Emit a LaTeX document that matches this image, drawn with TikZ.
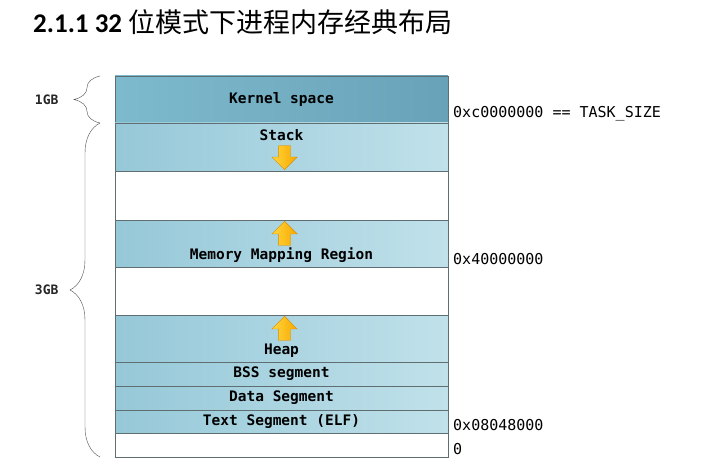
\documentclass[tikz,border=0pt]{standalone}
\usepackage{fontspec}
\setmainfont{Carlito}
\newfontfamily\cjk{Noto Sans CJK SC}
\newfontfamily\consol{DejaVu Sans Mono}
\usetikzlibrary{positioning}
\usetikzlibrary{shapes.arrows}
\usetikzlibrary{decorations.pathreplacing}

\definecolor{kerndark}{RGB}{104,162,184}
\definecolor{kernlight}{RGB}{126,186,206}
\definecolor{segdark}{RGB}{150,200,216}
\definecolor{seglight}{RGB}{192,225,234}
\definecolor{segline}{RGB}{95,110,112}
\definecolor{arrowlight}{RGB}{255,214,60}
\definecolor{arrowdark}{RGB}{248,168,0}
\definecolor{arrowline}{RGB}{214,140,0}

\tikzset{
  seg/.style={draw=segline,thick,minimum width=333pt,inner sep=0pt,outer sep=0pt},
  kseg/.style={seg,left color=kernlight,right color=kerndark},
  fseg/.style={seg,left color=segdark,right color=seglight},
  lbl/.style={font=\consol\bfseries\fontsize{14.5}{15}\selectfont,inner sep=0pt},
  addr/.style={font=\consol\fontsize{15}{15}\selectfont,anchor=south west,inner sep=2pt},
  size/.style={font=\consol\bfseries\fontsize{13}{14}\selectfont},
  growarrow/.style={single arrow,draw=arrowline,left color=arrowlight,right color=arrowdark,
    minimum height=24pt,inner xsep=0pt,inner ysep=6pt,single arrow head extend=6.5pt}
}

\begin{document}
\begin{tikzpicture}[x=1pt,y=-1pt,decoration={brace}]
\useasboundingbox (0,0) rectangle (723,468);

%title
\node[anchor=base west,inner sep=0pt,font=\fontsize{27}{29}\selectfont] (title) at (33,33)
  {\textbf{2.1.1 32} {\cjk 位模式下进程内存经典布局}};

%segments, from top to bottom
\node[kseg,minimum height=47pt] (kernel) at (281.5,99.5) {\consol\bfseries\fontsize{14.5}{15}\selectfont Kernel space};
\node[fseg,minimum height=48pt,below=0pt of kernel] (stack) {};
\node[seg,minimum height=49pt,below=0pt of stack] (gapa) {};
\node[fseg,minimum height=47pt,below=0pt of gapa] (mmap) {};
\node[seg,minimum height=48pt,below=0pt of mmap] (gapb) {};
\node[fseg,minimum height=47pt,below=0pt of gapb] (heap) {};
\node[fseg,minimum height=24pt,below=0pt of heap,lbl] (bss) {BSS segment};
\node[fseg,minimum height=24pt,below=0pt of bss,lbl] (data) {Data Segment};
\node[fseg,minimum height=23pt,below=0pt of data,lbl] (text) {Text Segment (ELF)};
\node[seg,minimum height=24pt,below=0pt of text] (low) {};

%labels inside the growing segments
\node[lbl,below=6pt of stack.north] (stacklbl) {Stack};
\node[lbl,above=4pt of mmap.south] (mmaplbl) {Memory Mapping Region};
\node[lbl,above=4pt of heap.south] (heaplbl) {Heap};

%growth arrows
\node[growarrow,rotate=-90,anchor=east] (stackarr) at ([xshift=3pt,yshift=1pt]stack.south) {};
\node[growarrow,rotate=90,anchor=east] (mmaparr) at ([xshift=3pt,yshift=-1pt]mmap.north) {};
\node[growarrow,rotate=90,anchor=east] (heaparr) at ([xshift=3pt,yshift=-1pt]heap.north) {};

%addresses
\node[addr] (taddr) at ([xshift=3pt]kernel.south east) {0xc0000000 == TASK\_SIZE};
\node[addr] (maddr) at ([xshift=3pt]mmap.south east) {0x40000000};
\node[addr] (xaddr) at ([xshift=3pt]text.south east) {0x08048000};
\node[addr] (zaddr) at ([xshift=3pt]low.south east) {0};

%braces
\coordinate (onetop) at ([xshift=-15pt]kernel.north west);
\coordinate (onebot) at ([xshift=-15pt]kernel.south west);
\coordinate (threebot) at ([xshift=-15pt]low.south west);
\draw[decorate,decoration={amplitude=26pt},color=black!70] (onebot) -- (onetop)
  node[midway,left=38pt,size,color=black!85] (onegb) {1GB};
\draw[decorate,decoration={amplitude=30pt},color=black!70] (threebot) -- (onebot)
  node[midway,left=38pt,size,color=black!85] (threegb) {3GB};

\end{tikzpicture}
\end{document}
